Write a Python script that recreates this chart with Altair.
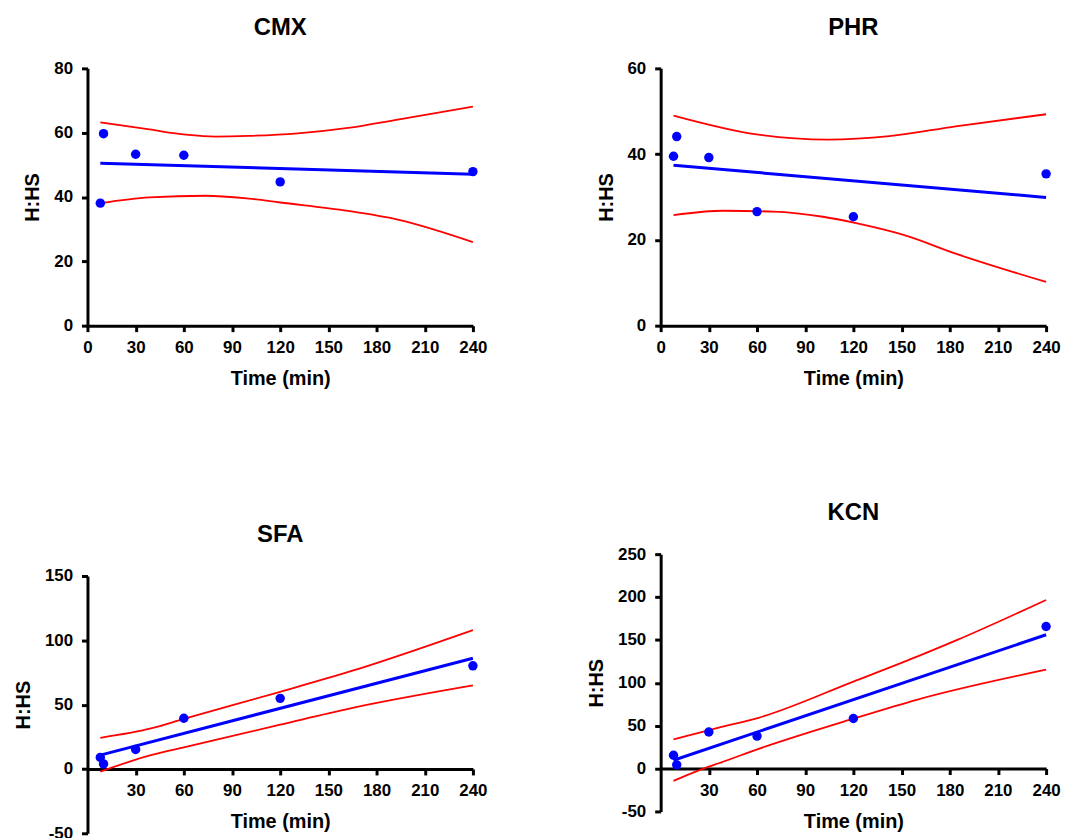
import altair as alt
import pandas as pd

FONT = "Liberation Sans"

# ---- data ----
time_pts = [8, 10, 30, 60, 120, 240]

cmx_y = [38.1, 59.7, 53.3, 53.0, 44.7, 47.9]
cmx_fit_x = [8, 240]
cmx_fit_y = [50.5, 47.1]
cmx_up_x = [8, 38.6, 61.2, 79.8, 100.3, 131, 162.3, 193.2, 240]
cmx_up_y = [63.2, 61.0, 59.4, 58.8, 59.0, 59.8, 61.5, 64.1, 68.1]
cmx_lo_x = [8, 38.6, 73.6, 100.3, 120, 162.3, 193.2, 240]
cmx_lo_y = [38.1, 39.9, 40.4, 39.5, 38.3, 35.7, 33.0, 26.0]

phr_y = [39.5, 44.1, 39.2, 26.6, 25.4, 35.4]
phr_fit_x = [8, 240]
phr_fit_y = [37.4, 29.9]
phr_up_x = [8, 59.8, 104.2, 142.4, 183.7, 240]
phr_up_y = [49.0, 44.6, 43.4, 44.2, 46.5, 49.3]
phr_lo_x = [8, 39.2, 70.2, 101.1, 121.7, 152.7, 183.7, 240]
phr_lo_y = [25.8, 26.8, 26.6, 25.4, 23.9, 21.0, 16.8, 10.2]

sfa_y = [9.0, 3.9, 15.2, 39.4, 54.9, 80.2]
sfa_fit_x = [8, 240]
sfa_fit_y = [10.8, 86.1]
sfa_up_x = [8, 39.5, 60, 120, 163, 240]
sfa_up_y = [24.2, 31.5, 38.9, 60.0, 75.6, 108.0]
sfa_lo_x = [8, 39.5, 60, 120, 163, 240]
sfa_lo_y = [-2.1, 10.8, 16.8, 34.4, 46.9, 64.9]

kcn_y = [15.5, 4.3, 42.6, 37.9, 58.4, 165.6]
kcn_fit_x = [8, 240]
kcn_fit_y = [9.7, 156.0]
kcn_up_x = [8, 36.2, 61, 120.4, 160, 184.7, 240]
kcn_up_y = [34.0, 47.6, 59.2, 101.7, 130.8, 150.0, 196.6]
kcn_lo_x = [8, 30, 36.2, 61, 120.4, 160, 240]
kcn_lo_y = [-14.3, 2.3, 6.2, 23.0, 58.4, 80.5, 115.3]

W, H = 388, 259
LABEL_EXPR = "datum.value < 0 ? '-' + abs(datum.value) : '' + datum.value"


def panel(title, ys, fx, fy, ux, uy, lx, ly, ydom, ystep, bottom):
    xscale = alt.Scale(domain=[0, 240], nice=False, zero=False)
    yscale = alt.Scale(domain=ydom, nice=False, zero=False)
    yvals = list(range(ydom[0], ydom[1] + 1, ystep))
    if bottom:
        xvals = list(range(30, 241, 30))
        off = -H * (0 - ydom[0]) / (ydom[1] - ydom[0])
    else:
        xvals = list(range(0, 241, 30))
        off = 0
    xaxis = alt.Axis(values=xvals, title="Time (min)", offset=off, labelFlush=False)
    yaxis = alt.Axis(values=yvals, title="H:HS", labelFlush=False, labelExpr=LABEL_EXPR)

    pts = pd.DataFrame({"t": time_pts, "v": ys})
    fit = pd.DataFrame({"t": fx, "v": fy})
    up = pd.DataFrame({"t": ux, "v": uy})
    lo = pd.DataFrame({"t": lx, "v": ly})

    X = alt.X("t:Q", scale=xscale, axis=xaxis)
    Y = alt.Y("v:Q", scale=yscale, axis=yaxis)

    l_up = alt.Chart(up).mark_line(color="#ff0000", strokeWidth=1.8, interpolate="monotone").encode(x=X, y=Y)
    l_lo = alt.Chart(lo).mark_line(color="#ff0000", strokeWidth=1.8, interpolate="monotone").encode(x=X, y=Y)
    l_fit = alt.Chart(fit).mark_line(color="#0000ff", strokeWidth=3).encode(x=X, y=Y)
    p = alt.Chart(pts).mark_circle(color="#0000ff", opacity=1, size=90).encode(x=X, y=Y)

    return alt.layer(l_up, l_lo, l_fit, p).properties(
        width=W, height=H,
        title=alt.TitleParams(title, fontSize=24, font=FONT, fontWeight="bold",
                              color="black", anchor="middle", offset=20),
    )


cmx = panel("CMX", cmx_y, cmx_fit_x, cmx_fit_y, cmx_up_x, cmx_up_y, cmx_lo_x, cmx_lo_y, [0, 80], 20, False)
phr = panel("PHR", phr_y, phr_fit_x, phr_fit_y, phr_up_x, phr_up_y, phr_lo_x, phr_lo_y, [0, 60], 20, False)
sfa = panel("SFA", sfa_y, sfa_fit_x, sfa_fit_y, sfa_up_x, sfa_up_y, sfa_lo_x, sfa_lo_y, [-50, 150], 50, True)
kcn = panel("KCN", kcn_y, kcn_fit_x, kcn_fit_y, kcn_up_x, kcn_up_y, kcn_lo_x, kcn_lo_y, [-50, 250], 50, True)

left = alt.vconcat(cmx, sfa, spacing=136)
right = alt.vconcat(phr, kcn, spacing=114)

chart = alt.hconcat(
    left, right, spacing=99, background="white",
    padding={"top": 5, "left": 5, "right": 0, "bottom": 0},
).configure_view(
    stroke=None
).configure_axis(
    grid=False,
    domainColor="black", domainWidth=3,
    tickColor="black", tickWidth=3, tickSize=6,
    labelFont=FONT, labelFontSize=17, labelFontWeight="bold", labelColor="black",
    titleFont=FONT, titleFontSize=20, titleFontWeight="bold", titleColor="black",
).configure_axisX(
    labelPadding=8, titlePadding=13,
).configure_axisY(
    labelPadding=9, titlePadding=11,
)

chart.save("out.html", embed_options={"renderer": "svg", "actions": False})
